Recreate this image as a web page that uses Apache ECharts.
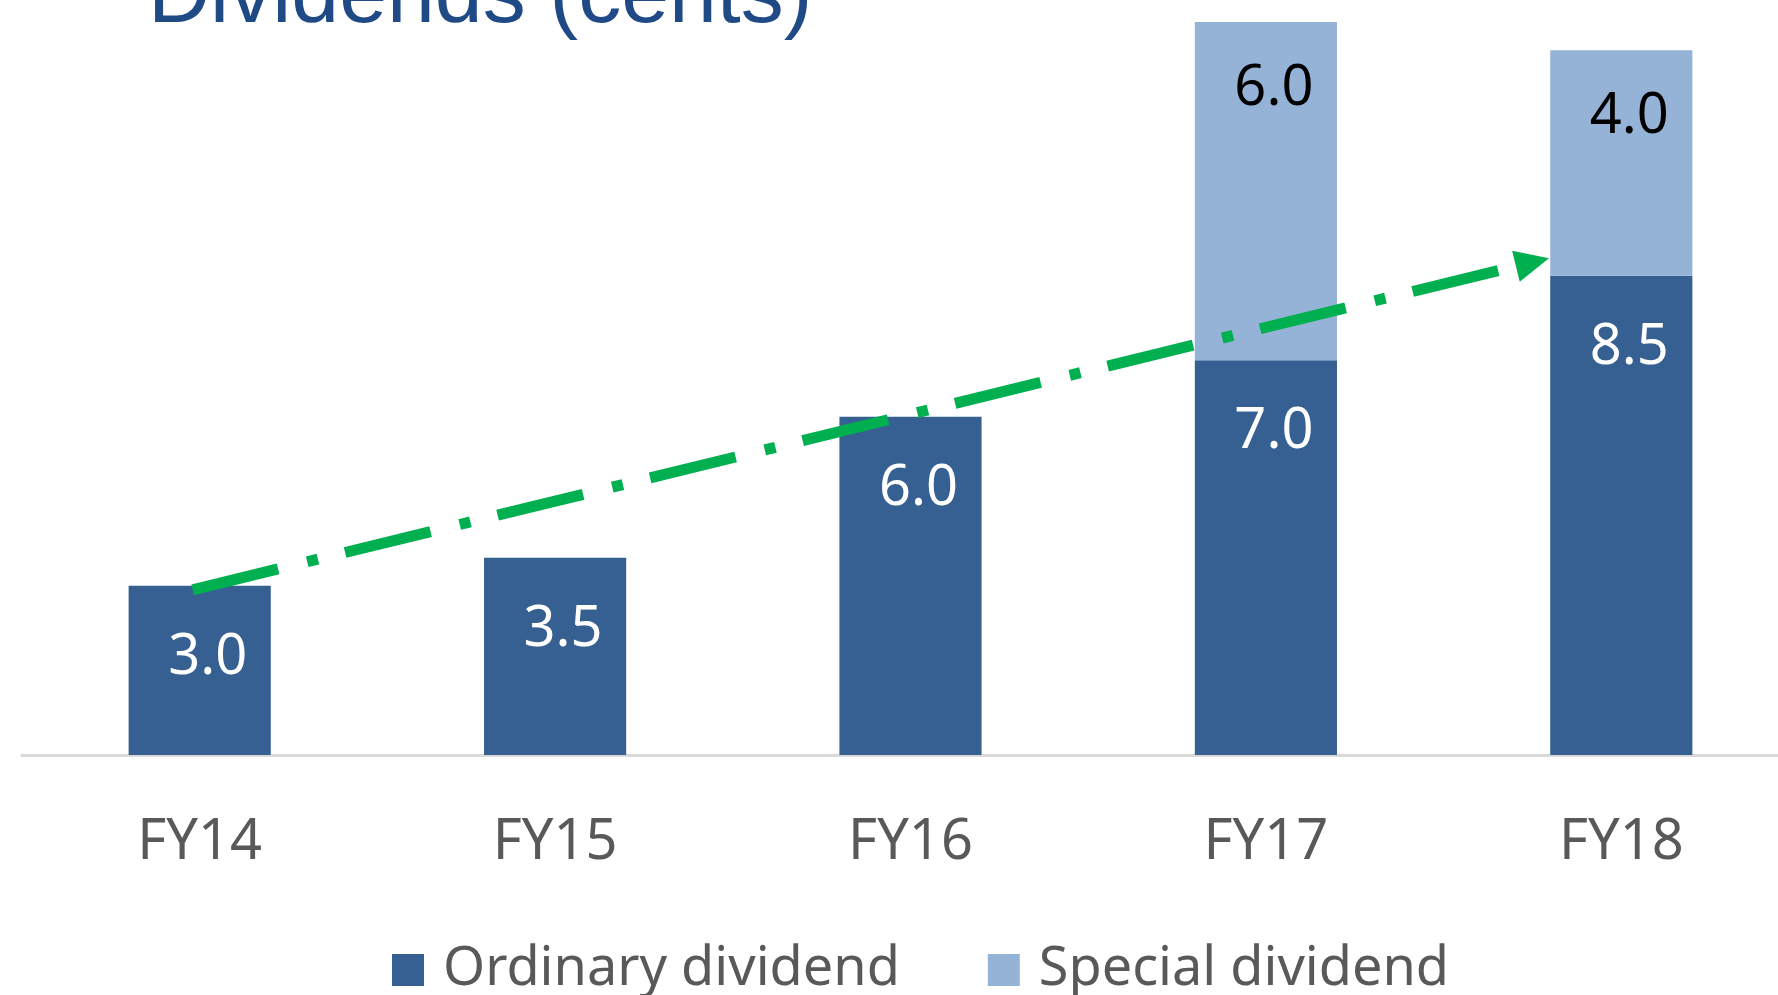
<!DOCTYPE html>
<html>
<head>
<meta charset="utf-8">
<title>Dividends (cents)</title>
<script src="https://cdn.jsdelivr.net/npm/echarts@6/dist/echarts.min.js"></script>
<style>
  html, body { margin: 0; padding: 0; background: #fff; }
  #chart { width: 1778px; height: 995px; }
</style>
</head>
<body>
<div id="chart"></div>
<script>
// data
var years = ['FY14', 'FY15', 'FY16', 'FY17', 'FY18'];
var ordinary = [3.0, 3.5, 6.0, 7.0, 8.5];
var special = ['-', '-', '-', 6.0, 4.0];
// trend arrow, in category-index / value units
var trendArrow = [[-0.02, 2.93], [3.75, 8.74]];

var chart = echarts.init(document.getElementById('chart'));

var labelFont = 'Noto Sans';

chart.setOption({
  animation: false,
  title: {
    text: 'Dividends (cents)',
    left: 143,
    top: -50,
    textStyle: {
      fontFamily: 'Liberation Sans',
      fontSize: 86,
      lineHeight: 86,
      fontWeight: 'normal',
      color: '#1f4a85'
    }
  },
  grid: {
    left: 22,
    width: 1777,
    top: 22,
    bottom: 240,
    outerBoundsMode: 'none',
    containLabel: false
  },
  legend: {
    data: ['Ordinary dividend', 'Special dividend'],
    left: 387,
    top: 935,
    icon: 'rect',
    itemWidth: 32,
    itemHeight: 32,
    itemGap: 88,
    textStyle: {
      fontFamily: labelFont,
      fontSize: 54,
      lineHeight: 60,
      color: '#595959',
      padding: [0, 0, 0, 14]
    }
  },
  xAxis: [{
    type: 'category',
    data: years,
    axisTick: { show: false },
    axisLine: { lineStyle: { color: '#d9d9d9', width: 3 } },
    axisLabel: {
      margin: 58,
      fontFamily: labelFont,
      fontSize: 56,
      lineHeight: 60,
      color: '#595959'
    }
  }, {
    type: 'value',
    min: -0.5,
    max: 4.5,
    show: false
  }],
  yAxis: {
    type: 'value',
    min: 0,
    max: 13,
    show: false,
    splitLine: { show: false }
  },
  series: [{
    name: 'Ordinary dividend',
    type: 'bar',
    stack: 'div',
    barWidth: '40%',
    data: ordinary,
    itemStyle: { color: '#376092' },
    label: {
      show: true,
      position: 'insideTop',
      distance: 42,
      offset: [8, 0],
      formatter: function (p) { return p.value.toFixed(1); },
      fontFamily: labelFont,
      fontSize: 56,
      lineHeight: 60,
      color: '#ffffff'
    }
  }, {
    name: 'Special dividend',
    type: 'bar',
    stack: 'div',
    barWidth: '40%',
    data: special,
    itemStyle: { color: '#95b3d7' },
    label: {
      show: true,
      position: 'insideTop',
      distance: 37,
      offset: [8, 0],
      formatter: function (p) { return p.value.toFixed(1); },
      fontFamily: labelFont,
      fontSize: 56,
      lineHeight: 60,
      color: '#000000'
    }
  }, {
    // green dash-dot trend arrow
    type: 'line',
    xAxisIndex: 1,
    data: [],
    silent: true,
    markLine: {
      silent: true,
      symbol: ['none', 'triangle'],
      symbolSize: [32, 34],
      label: { show: false },
      lineStyle: {
        color: '#00b050',
        width: 11,
        type: [88, 30, 11, 28],
        cap: 'butt'
      },
      data: [[
        { coord: trendArrow[0] },
        { coord: trendArrow[1] }
      ]]
    }
  }]
});
</script>
</body>
</html>
